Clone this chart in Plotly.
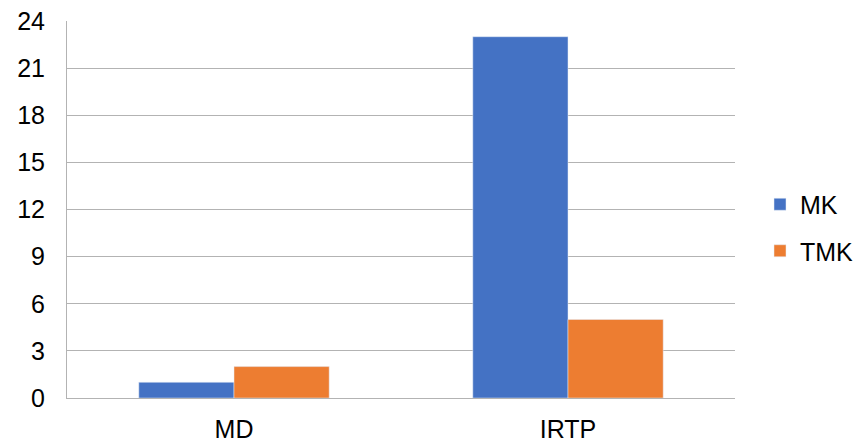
import plotly.graph_objects as go

categories = ["MD", "IRTP"]
mk_values = [1, 23]
tmk_values = [2, 5]
y_ticks = [0, 3, 6, 9, 12, 15, 18, 21, 24]

W, H = 856, 445

fig = go.Figure()
fig.add_trace(go.Bar(name="MK", x=categories, y=mk_values, marker_color="#4472C4",
                     legendgroup="a"))
fig.add_trace(go.Bar(name="TMK", x=categories, y=tmk_values, marker_color="#ED7D31",
                     legendgroup="b"))

fig.update_layout(
    width=W, height=H,
    margin=dict(l=67, r=121, t=21, b=47, autoexpand=False),
    paper_bgcolor="white", plot_bgcolor="white",
    barmode="group", bargap=0.43, bargroupgap=0,
    font=dict(family="Liberation Sans, Arial, sans-serif", size=25, color="#000000"),
    legend=dict(xref="container", yref="container", x=760 / W, y=1 - 227.5 / H,
                xanchor="left", yanchor="middle",
                font=dict(size=25), tracegroupgap=11, traceorder="grouped",
                itemwidth=30, bgcolor="rgba(0,0,0,0)"),
    showlegend=True,
)
fig.update_yaxes(range=[0, 24], tickvals=y_ticks, showgrid=True, gridcolor="#b3b3b3",
                 gridwidth=1, showline=True, linecolor="#b3b3b3", zeroline=False,
                 ticks="", ticklabelstandoff=16, automargin=False,
                 ticklabeloverflow="allow")
fig.update_xaxes(showline=True, linecolor="#b3b3b3", ticks="", ticklabelstandoff=9,
                 automargin=False, ticklabeloverflow="allow")

fig.write_html(
    "out.html",
    config={"displayModeBar": False},
    post_script="document.body.style.margin='0';document.body.style.overflow='hidden';",
)
